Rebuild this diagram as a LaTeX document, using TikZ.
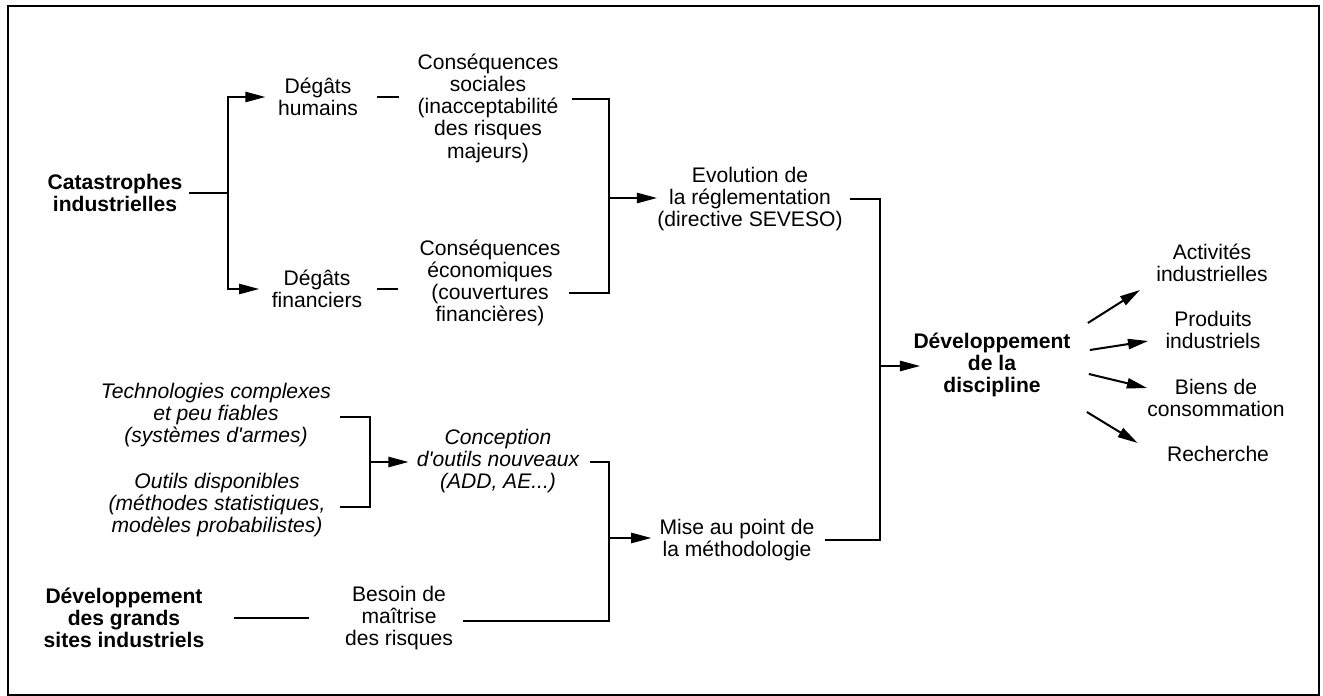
\documentclass[tikz,border=0pt]{standalone}
\usepackage{fontspec}
\setmainfont{Liberation Sans}
\usetikzlibrary{arrows.meta}
\begin{document}
\begin{tikzpicture}[x=0.02cm,y=-0.02cm,
  txt/.style={inner sep=0pt, align=center, font=\fontsize{12}{12.65}\selectfont},
  bld/.style={txt, font=\fontsize{12}{12.65}\selectfont\bfseries},
  itl/.style={txt, font=\fontsize{12}{12.65}\selectfont\itshape},
  wire/.style={line width=1.15pt},
  arr/.style={wire, -{Triangle[length=11.5pt,width=5.8pt]}},
]
\useasboundingbox (0,0) rectangle (1323,696);
% outer frame
\draw[line width=1.2pt] (8,6) rectangle (1319,695);

% --- upper branch: accidents and their consequences
\node[bld] (cat) at (115,193) {Catastrophes\\industrielles};
\node[txt] (dh) at (318,97) {Dégâts\\humains};
\node[txt] (df) at (317,289) {Dégâts\\financiers};
\node[txt] (cs) at (488,108) {Conséquences\\sociales\\(inacceptabilité\\des risques\\majeurs)};
\node[txt] (ce) at (490,283) {Conséquences\\économiques\\(couvertures\\financières)};
\node[txt] (evo) at (750,199) {Evolution de\\la réglementation\\(directive SEVESO)};

% --- lower branch: methods and tools
\node[itl] (tech) at (216,415) {Technologies complexes\\et peu fiables\\(systèmes d\textquotesingle armes)};
\node[itl] (outils) at (217,505) {Outils disponibles\\(méthodes statistiques,\\modèles probabilistes)};
\node[itl] (conc) at (498,461) {Conception\\d\textquotesingle outils nouveaux\\(ADD, AE...)};
\node[bld] (dgs) at (124,618) {Développement\\des grands\\sites industriels};
\node[txt] (bes) at (399,618) {Besoin de\\maîtrise\\des risques};
\node[txt] (mise) at (737,540) {Mise au point de\\la méthodologie};

% --- outcome
\node[bld] (dev) at (992,365) {Développement\\de la\\discipline};
\node[txt] (act) at (1212,263) {Activités\\industrielles};
\node[txt] (prod) at (1213,330) {Produits\\industriels};
\node[txt] (biens) at (1216,398) {Biens de\\consommation};
\node[txt] (rech) at (1218,454) {Recherche};

% junctions of the brackets
\coordinate (jA) at (228,194);
\coordinate (bT) at (609,99);
\coordinate (bB) at (609,293);
\coordinate (jB) at (609,198);
\coordinate (jC) at (880,366);
\coordinate (kT) at (370,417);
\coordinate (kB) at (370,507);
\coordinate (jK) at (370,462);
\coordinate (mT) at (609,462);
\coordinate (mB) at (609,621);
\coordinate (jM) at (609,538);

% upper branch connectors
\draw[wire, shorten <=3.5pt] (cat.east) -- (cat.east -| jA);
\draw[arr, shorten >=7pt] (jA) |- (dh.west);
\draw[arr, shorten >=7pt] (jA) |- (df.west);
\draw[wire, shorten <=10.5pt, shorten >=10.5pt] (dh.east) -- (dh.east -| cs.west);
\draw[wire, shorten <=8.5pt, shorten >=12pt] (df.east) -- (df.east -| ce.west);
\draw[wire, shorten <=7.4pt, shorten >=5pt] (cs.east |- bT) -- (bT) -- (bB) -- (ce.east |- bB);
\draw[arr] (jB) -- (jB -| evo.west);

% lower branch connectors
\draw[wire, shorten <=5pt, shorten >=8pt] (tech.east |- kT) -- (kT) -- (kB) -- (outils.east |- kB);
\draw[arr, shorten >=4.5pt] (jK) -- (jK -| conc.west);
\draw[wire, shorten <=5.7pt, shorten >=5.7pt] (conc.east |- mT) -- (mT) -- (mB) -- (bes.east |- mB);
\draw[wire, shorten <=16.5pt, shorten >=20.5pt] (dgs.east) -- (bes.west);
\draw[arr, shorten >=4.5pt] (jM) -- (jM -| mise.west);

% merge into the discipline
\draw[wire, shorten <=4pt] (evo.east) -| (jC);
\draw[wire, shorten <=5.7pt] (mise.east) -| (jC);
\draw[arr] (jC) -- ([xshift=4pt]jC -| dev.west);

% outcomes of the discipline
\draw[arr] ([shift={(17,-42)}]dev.east) -- ([shift={(-16,27)}]act.west);
\draw[arr] ([shift={(19,-15)}]dev.east) -- ([shift={(-17,11)}]prod.west);
\draw[arr] ([shift={(18,9)}]dev.east) -- ([shift={(0,-10)}]biens.west);
\draw[arr] ([shift={(16,47)}]dev.east) -- ([shift={(-29,-11)}]rech.west);
\end{tikzpicture}
\end{document}
